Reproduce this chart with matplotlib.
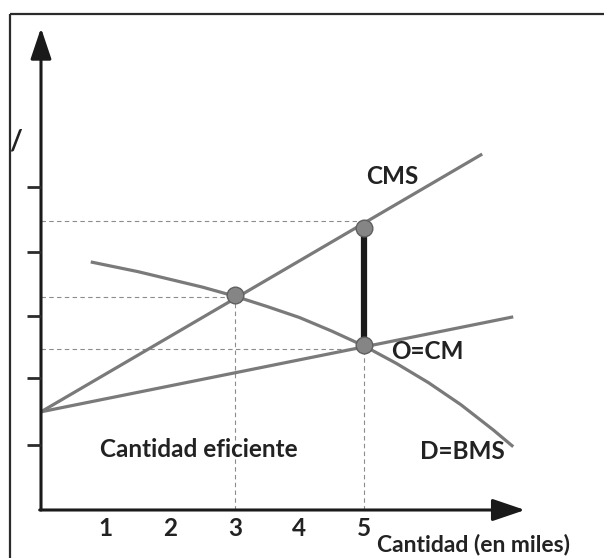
import matplotlib
matplotlib.use("Agg")
import matplotlib.pyplot as plt

plt.rcParams['font.family'] = ['Lato', 'DejaVu Sans']

# ---- data (in chart units: quantity in thousands, price in arbitrary units) ----
x_tick_vals = [1, 2, 3, 4, 5]
x_tick_labels = ["1", "2", "3", "4", "5"]
y_tick_vals = [1.0, 2.05, 3.0, 4.0, 5.0]

cms_x = [0.0, 6.83]
cms_y = [1.52, 5.51]

cm_x = [0.0, 7.31]
cm_y = [1.52, 2.99]

dem_x = [0.77, 1.5, 2.0, 2.5, 3.0, 3.5, 4.0, 4.5, 5.0, 5.5, 6.0, 6.5, 7.0, 7.31]
dem_y = [3.84, 3.69, 3.57, 3.45, 3.31, 3.15, 2.98, 2.77, 2.54, 2.27, 1.97, 1.63, 1.24, 0.98]

dots_x = [3.0, 5.0, 5.0]
dots_y = [3.33, 4.36, 2.55]

dash_levels_y = [3.30, 4.47, 2.49]
dash_ends_x = [3.0, 5.0, 5.0]
vdash_x = [3.0, 5.0]
vdash_top = [3.33, 2.55]

# ---- figure ----
W, H = 604, 558
ox, oy, u = 41, 510, 64.6
fig = plt.figure(figsize=(W / 100, H / 100), dpi=100)
ax = fig.add_axes([0, 0, 1, 1])
ax.set_xlim(-ox / u, (W - ox) / u)
ax.set_ylim(-(H - oy) / u, oy / u)
ax.axis('off')

grey = '#7a7a7a'
dash_c = '#8c8c8c'

# frame (left and top edges only visible)
ax.plot([10 / W, 10 / W], [0, 1 - 14 / H], color='#2b2b2b', lw=1.6,
        transform=ax.transAxes, clip_on=False, solid_capstyle='butt')
ax.plot([10 / W, 1], [1 - 14 / H, 1 - 14 / H], color='#2b2b2b', lw=1.6,
        transform=ax.transAxes, clip_on=False, solid_capstyle='butt')

# dashed guide lines
for yl, xe in zip(dash_levels_y, dash_ends_x):
    ax.plot([0, xe], [yl, yl], color=dash_c, lw=0.8, ls=(0, (4, 3)), zorder=1)
for xv, yt in zip(vdash_x, vdash_top):
    ax.plot([xv, xv], [0, yt], color=dash_c, lw=0.8, ls=(0, (4, 3)), zorder=1)

# curves
ax.plot(cms_x, cms_y, color=grey, lw=2.3, zorder=2, solid_capstyle='butt')
ax.plot(cm_x, cm_y, color=grey, lw=2.3, zorder=2, solid_capstyle='butt')
ax.plot(dem_x, dem_y, color=grey, lw=2.3, zorder=2, solid_capstyle='butt',
        solid_joinstyle='round')

# thick gap segment
ax.plot([dots_x[1], dots_x[2]], [dots_y[1], dots_y[2]], color='#1a1a1a', lw=4.5, zorder=3)

# points
ax.plot(dots_x, dots_y, 'o', ms=12, mfc='#858585', mec='#5f5f5f', mew=1.0, zorder=4)

# axes with arrows
ax.annotate('', xy=(0, (oy - 28) / u), xytext=(0, 0),
            arrowprops=dict(arrowstyle='-|>,head_length=0.95,head_width=0.32',
                            mutation_scale=20, lw=2.2, color='#1a1a1a',
                            shrinkA=0, shrinkB=0), zorder=5)
ax.annotate('', xy=((525 - ox) / u, 0), xytext=(-0.02, 0),
            arrowprops=dict(arrowstyle='-|>,head_length=1.0,head_width=0.34',
                            mutation_scale=20, lw=2.2, color='#1a1a1a',
                            shrinkA=0, shrinkB=0), zorder=5)

# y ticks
for yv in y_tick_vals:
    ax.plot([-14 / u, 0], [yv, yv], color='#2b2b2b', lw=2.0, zorder=5, solid_capstyle='butt')

# x tick labels
fs = 17.5
for xv, lab in zip(x_tick_vals, x_tick_labels):
    ax.text(xv, -0.28, lab, ha='center', va='center', fontsize=fs,
            fontweight='bold', color='#222222')

# annotations
tkw = dict(fontsize=fs, fontweight='bold', color='#222222', va='center')
ax.text(5.43, 5.17, 'CMS', ha='center', **tkw)
ax.text(5.98, 2.45, 'O=CM', ha='center', **tkw)
ax.text(6.52, 0.90, 'D=BMS', ha='center', **tkw)
ax.text(2.45, 0.93, 'Cantidad eficiente', ha='center', **tkw)
ax.text((377 - ox) / u, -0.36, 'Cantidad (en miles)', ha='left', va='top',
        fontsize=16.5, fontweight='bold', color='#222222')
ax.text(-0.39, 5.71, '/', ha='center', va='center', fontsize=20,
        fontweight='bold', color='#222222')

fig.savefig('out.png', dpi=100)
